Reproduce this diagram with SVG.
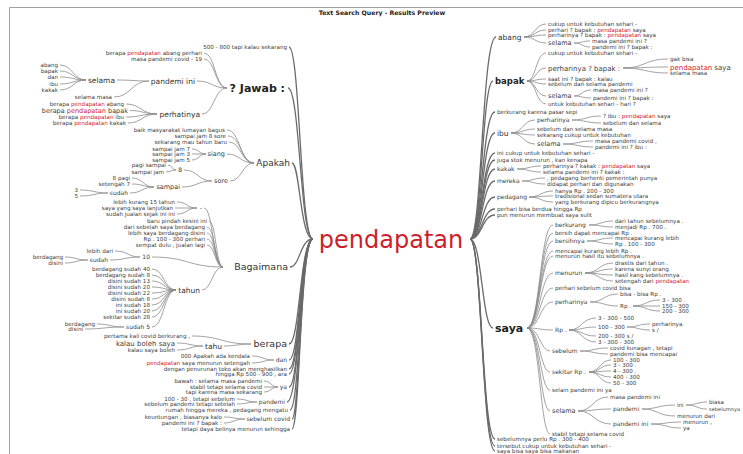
<svg xmlns="http://www.w3.org/2000/svg" width="743" height="454" viewBox="0 0 743 454">
<style>
text{font-family:"DejaVu Sans","Liberation Sans",sans-serif;font-size:5.6px;fill:#3c3c3c}
.L text{text-anchor:end}
.f6{font-size:6px}.f65{font-size:6.5px}.f7{font-size:7px}
.f75{font-size:7.5px;fill:#333}.f85{font-size:8.5px}.f9{font-size:9px;fill:#333}.f95{font-size:9.5px;fill:#333}.f11{font-size:11px}
.bd{font-weight:bold;fill:#222}
.r{fill:#d0202a}
.e{fill:none;stroke:#8a8a8a;stroke-width:0.8}
.k{fill:none;stroke:#6a6a6a;stroke-width:1.3}
.frame{fill:none;stroke:#a0a0a0;stroke-width:1}
</style>
<rect width="743" height="454" fill="#fff"/>
<path class="frame" d="M9.5 454 V7.5 H743"/>
<text x="382" y="15" class="bd" style="font-size:6.2px;text-anchor:middle">Text Search Query - Results Preview</text>

<g id="connectors">
<g class="k">
<path d="M289 47 C300 47 300 239 313 239"/>
<path d="M288 88 C300 88 300 239 313 239"/>
<path d="M292 163 C300 163 300 239 313 239"/>
<path d="M290 267 C300 267 300 239 313 239"/>
<path d="M289 344 C300 344 300 239 313 239"/>
<path d="M289 360 C300 360 300 239 313 239"/>
<path d="M289 369 C300 369 300 239 313 239"/>
<path d="M289 374 C300 374 300 239 313 239"/>
<path d="M289 387 C300 387 300 239 313 239"/>
<path d="M287 402 C300 402 300 239 313 239"/>
<path d="M290 410 C300 410 300 239 313 239"/>
<path d="M292 419 C300 419 300 239 313 239"/>
<path d="M292 429 C300 429 300 239 313 239"/>
<path d="M470 239 C482 239 482 37 496 37"/>
<path d="M470 239 C482 239 482 81 493 81"/>
<path d="M470 239 C482 239 482 112 495 112"/>
<path d="M470 239 C482 239 482 133 495 133"/>
<path d="M470 239 C482 239 482 153 495 153"/>
<path d="M470 239 C482 239 482 160 495 160"/>
<path d="M470 239 C482 239 482 169 495 169"/>
<path d="M470 239 C482 239 482 181 495 181"/>
<path d="M470 239 C482 239 482 197 495 197"/>
<path d="M470 239 C482 239 482 209 495 209"/>
<path d="M470 239 C482 239 482 215 495 215"/>
<path d="M470 239 C482 239 482 328 493 328"/>
<path d="M470 239 C482 239 482 439 495 439"/>
<path d="M470 239 C482 239 482 446 495 446"/>
<path d="M470 239 C482 239 482 451 495 451"/>
</g>
<g class="e">
<path d="M204 53 C215 53 215 88 227 88"/>
<path d="M204 59 C215 59 215 88 227 88"/>
<path d="M197 81 C212 81 212 88 227 88"/>
<path d="M202 114 C214 114 214 88 227 88"/>
<path d="M117 80 C133 80 133 81 149 81"/>
<path d="M114 97 C131 97 131 81 149 81"/>
<path d="M60 65 C73 65 73 80 86 80"/>
<path d="M60 71 C73 71 73 80 86 80"/>
<path d="M60 77 C73 77 73 80 86 80"/>
<path d="M60 84 C73 84 73 80 86 80"/>
<path d="M60 90 C73 90 73 80 86 80"/>
<path d="M126 104 C141 104 141 114 157 114"/>
<path d="M130 110.5 C143 110.5 143 114 157 114"/>
<path d="M126 117 C141 117 141 114 157 114"/>
<path d="M128 123 C142 123 142 114 157 114"/>
<path d="M227 130 C240 130 240 163 254 163"/>
<path d="M228 136 C241 136 241 163 254 163"/>
<path d="M229 142 C241 142 241 163 254 163"/>
<path d="M227 154 C240 154 240 163 254 163"/>
<path d="M230 181 C242 181 242 163 254 163"/>
<path d="M192 149 C199 149 199 154 206 154"/>
<path d="M192 154 L206 154"/>
<path d="M192 160 C199 160 199 154 206 154"/>
<path d="M184 170 C198 170 198 181 212 181"/>
<path d="M182 187 C197 187 197 181 212 181"/>
<path d="M168 165 C172 165 172 170 176 170"/>
<path d="M166 172 C171 172 171 170 176 170"/>
<path d="M132 178 C143 178 143 187 154 187"/>
<path d="M132 184 C143 184 143 187 154 187"/>
<path d="M130 193 C142 193 142 187 154 187"/>
<path d="M80 190 C94 190 94 193 108 193"/>
<path d="M80 196 C94 196 94 193 108 193"/>
<path d="M204 208 C213 208 213 267 223 267"/>
<path d="M209 221 C216 221 216 267 223 267"/>
<path d="M207 227 C215 227 215 267 223 267"/>
<path d="M207 233 C215 233 215 267 223 267"/>
<path d="M207 239 C215 239 215 267 223 267"/>
<path d="M207 245 C215 245 215 267 223 267"/>
<path d="M152 257 C188 257 188 267 223 267"/>
<path d="M202 290 C212 290 212 267 223 267"/>
<path d="M177 202 C187 202 187 208 197 208"/>
<path d="M175 208 L197 208"/>
<path d="M177 214 C187 214 187 208 197 208"/>
<path d="M115 251 C128 251 128 257 140 257"/>
<path d="M110 260 C125 260 125 257 140 257"/>
<path d="M65 257 C76 257 76 260 88 260"/>
<path d="M65 263 C76 263 76 260 88 260"/>
<path d="M152 269 C164 269 164 290 176 290"/>
<path d="M152 275 C164 275 164 290 176 290"/>
<path d="M152 281 C164 281 164 290 176 290"/>
<path d="M152 287 C164 287 164 290 176 290"/>
<path d="M152 293 C164 293 164 290 176 290"/>
<path d="M152 299 C164 299 164 290 176 290"/>
<path d="M152 305 C164 305 164 290 176 290"/>
<path d="M152 311 C164 311 164 290 176 290"/>
<path d="M152 317 C164 317 164 290 176 290"/>
<path d="M152 327 C164 327 164 290 176 290"/>
<path d="M97 324 C110 324 110 327 124 327"/>
<path d="M85 329 C104 329 104 327 124 327"/>
<path d="M192 336 C221 336 221 344 251 344"/>
<path d="M224 346 C237 346 237 344 251 344"/>
<path d="M177 343 C190 343 190 346 203 346"/>
<path d="M177 350 C190 350 190 346 203 346"/>
<path d="M252 356 C263 356 263 360 274 360"/>
<path d="M252 363 C263 363 263 360 274 360"/>
<path d="M264 381 C271 381 271 387 278 387"/>
<path d="M264 387 L278 387"/>
<path d="M264 392 C271 392 271 387 278 387"/>
<path d="M237 399 C247 399 247 402 257 402"/>
<path d="M237 404 C247 404 247 402 257 402"/>
<path d="M224 417 C234 417 234 419 245 419"/>
<path d="M224 423 C234 423 234 419 245 419"/>
<path d="M524 37 C535 37 535 24 546 24"/>
<path d="M524 37 C535 37 535 30 546 30"/>
<path d="M524 37 C535 37 535 35 546 35"/>
<path d="M524 37 C535 37 535 43 546 43"/>
<path d="M574 43 C582 43 582 41 590 41"/>
<path d="M574 43 C582 43 582 47 590 47"/>
<path d="M527 81 C536 81 536 53 546 53"/>
<path d="M527 81 C536 81 536 68 546 68"/>
<path d="M527 81 C536 81 536 79 546 79"/>
<path d="M527 81 C536 81 536 84 546 84"/>
<path d="M527 81 C536 81 536 96 546 96"/>
<path d="M527 81 C536 81 536 104 546 104"/>
<path d="M623 68 C645 68 645 59 668 59"/>
<path d="M623 68 C645 68 645 67 668 67"/>
<path d="M623 68 C645 68 645 73 668 73"/>
<path d="M574 96 C582 96 582 90 591 90"/>
<path d="M574 96 C582 96 582 98 591 98"/>
<path d="M511 133 C523 133 523 120 535 120"/>
<path d="M511 133 C523 133 523 129 535 129"/>
<path d="M511 133 C523 133 523 135 535 135"/>
<path d="M511 133 C523 133 523 144 535 144"/>
<path d="M572 120 C586 120 586 116 601 116"/>
<path d="M572 120 C586 120 586 123 601 123"/>
<path d="M563 144 C578 144 578 141 593 141"/>
<path d="M563 144 C578 144 578 147 593 147"/>
<path d="M517 169 C529 169 529 166 541 166"/>
<path d="M517 169 C529 169 529 172 541 172"/>
<path d="M522 181 C533 181 533 178 545 178"/>
<path d="M522 181 C533 181 533 184 545 184"/>
<path d="M529 197 C541 197 541 191 553 191"/>
<path d="M529 197 C541 197 541 196 553 196"/>
<path d="M529 197 C541 197 541 202 553 202"/>
<path d="M527 328 C540 328 540 225 553 225"/>
<path d="M527 328 C540 328 540 233 553 233"/>
<path d="M527 328 C540 328 540 241 553 241"/>
<path d="M527 328 C540 328 540 251 553 251"/>
<path d="M527 328 C540 328 540 256 553 256"/>
<path d="M527 328 C540 328 540 273 553 273"/>
<path d="M527 328 C540 328 540 288 553 288"/>
<path d="M527 328 C540 328 540 302 553 302"/>
<path d="M527 328 C540 328 540 330 553 330"/>
<path d="M527 328 C540 328 540 351 550 351"/>
<path d="M527 328 C540 328 540 372 550 372"/>
<path d="M527 328 C540 328 540 390 550 390"/>
<path d="M527 328 C540 328 540 411 550 411"/>
<path d="M527 328 C540 328 540 434 550 434"/>
<path d="M589 225 C601 225 601 221 613 221"/>
<path d="M589 225 C601 225 601 227 613 227"/>
<path d="M587 241 C600 241 600 238 613 238"/>
<path d="M587 241 C600 241 600 244 613 244"/>
<path d="M585 273 C599 273 599 263 613 263"/>
<path d="M585 273 C599 273 599 269 613 269"/>
<path d="M585 273 C599 273 599 275 613 275"/>
<path d="M585 273 C599 273 599 281 613 281"/>
<path d="M590 302 C604 302 604 294 618 294"/>
<path d="M590 302 C604 302 604 306 618 306"/>
<path d="M633 306 C646 306 646 300 660 300"/>
<path d="M633 306 L660 306"/>
<path d="M633 306 C646 306 646 311 660 311"/>
<path d="M569 330 C582 330 582 318 596 318"/>
<path d="M569 330 C582 330 582 327 596 327"/>
<path d="M569 330 C582 330 582 336 596 336"/>
<path d="M569 330 C582 330 582 342 596 342"/>
<path d="M627 327 C638 327 638 324 650 324"/>
<path d="M627 327 C638 327 638 330 650 330"/>
<path d="M580 351 C594 351 594 348 608 348"/>
<path d="M580 351 C594 351 594 354 608 354"/>
<path d="M589 372 C600 372 600 360 611 360"/>
<path d="M589 372 C600 372 600 365 611 365"/>
<path d="M589 372 C600 372 600 371 611 371"/>
<path d="M589 372 C600 372 600 377 611 377"/>
<path d="M589 372 C600 372 600 383 611 383"/>
<path d="M578 411 C593 411 593 397 608 397"/>
<path d="M578 411 C594 411 594 409 611 409"/>
<path d="M578 411 C594 411 594 424 611 424"/>
<path d="M642 409 C658 409 658 405 675 405"/>
<path d="M642 409 C658 409 658 416 675 416"/>
<path d="M686 405 C697 405 697 402 707 402"/>
<path d="M686 405 C697 405 697 409 707 409"/>
<path d="M651 424 C666 424 666 422 681 422"/>
<path d="M651 424 C666 424 666 428 681 428"/>
</g>
</g>

<g id="root"><text x="391" y="247.5" style="font-size:24px;fill:#cc1f2b;text-anchor:middle">pendapatan</text></g>

<g class="L">
<g id="l-500"><text x="287" y="49">500 - 800 tapi kalau sekarang</text></g>
<g id="l-jawab"><text class="bd f11" x="285" y="92">? Jawab :</text></g>
<g id="l-j1"><text x="202" y="55">berapa <tspan class="r">pendapatan</tspan> abang perhari</text></g>
<g id="l-j2"><text x="202" y="61">masa pandemi covid - 19</text></g>
<g id="l-pandemi-ini"><text class="f75" x="195" y="83.7">pandemi ini</text></g>
<g id="l-selama1"><text class="f75" x="115" y="82.7">selama</text></g>
<g id="l-s-abang"><text x="58" y="67">abang</text></g>
<g id="l-s-bapak"><text x="58" y="73">bapak</text></g>
<g id="l-s-dan"><text x="58" y="79">dan</text></g>
<g id="l-s-ibu"><text x="58" y="86">ibu</text></g>
<g id="l-s-kakak"><text x="58" y="92">kakak</text></g>
<g id="l-selama-masa"><text x="112" y="99">selama masa</text></g>
<g id="l-perhatinya"><text class="f75" x="200" y="116.7">perhatinya</text></g>
<g id="l-bp-abang"><text x="124" y="106">berapa <tspan class="r">pendapatan</tspan> abang</text></g>
<g id="l-bp-bapak"><text class="f65" x="128" y="112.8">berapa <tspan class="r">pendapatan</tspan> bapak</text></g>
<g id="l-bp-ibu"><text x="124" y="119">berapa <tspan class="r">pendapatan</tspan> ibu</text></g>
<g id="l-bp-kakak"><text x="126" y="125">berapa <tspan class="r">pendapatan</tspan> kakak</text></g>

<g id="l-apakah"><text class="f9" x="290" y="166.2">Apakah</text></g>
<g id="l-a1"><text x="225" y="132">baik masyarakat lumayan bagus</text></g>
<g id="l-a2"><text x="226" y="138">sampai jam 8 sore</text></g>
<g id="l-a3"><text x="227" y="144">sekarang mau tahun baru</text></g>
<g id="l-siang"><text class="f65" x="225" y="156.3">siang</text></g>
<g id="l-sj7"><text x="190" y="151">sampai jam 7</text></g>
<g id="l-sj3"><text x="190" y="156">sampai jam 3</text></g>
<g id="l-sj5"><text x="190" y="162">sampai jam 5</text></g>
<g id="l-sore"><text class="f65" x="228" y="183.3">sore</text></g>
<g id="l-8"><text class="f6" x="182" y="172.1">8</text></g>
<g id="l-pagi-sampai"><text x="166" y="167">pagi sampai</text></g>
<g id="l-sampai-jam"><text x="164" y="174">sampai jam</text></g>
<g id="l-sampai"><text class="f65" x="180" y="189.3">sampai</text></g>
<g id="l-8pagi"><text x="130" y="180">8 pagi</text></g>
<g id="l-setengah7"><text x="130" y="186">setengah 7</text></g>
<g id="l-sudah1"><text class="f6" x="128" y="195.1">sudah</text></g>
<g id="l-3"><text x="78" y="192">3</text></g>
<g id="l-5"><text x="78" y="198">5</text></g>

<g id="l-bagaimana"><text class="f95" x="288" y="270.4">Bagaimana</text></g>
<g id="l-dash"><text class="f6" x="202" y="210.1">-</text></g>
<g id="l-b1"><text x="175" y="204">lebih kurang 15 tahun</text></g>
<g id="l-b2"><text x="173" y="210">saya yang saya lanjutkan</text></g>
<g id="l-b3"><text x="175" y="216">sudah jualan sejak ini ini</text></g>
<g id="l-b4"><text x="207" y="223">baru pindah kesini ini</text></g>
<g id="l-b5"><text x="205" y="229">dari sebelah saya berdagang</text></g>
<g id="l-b6"><text x="205" y="235">lebih saya berdagang disini</text></g>
<g id="l-b7"><text x="205" y="241">Rp . 100 - 300 perhari</text></g>
<g id="l-b8"><text x="205" y="247">sempat dulu , jualan lagi</text></g>
<g id="l-10"><text class="f6" x="150" y="259.1">10</text></g>
<g id="l-lebih-dari"><text x="113" y="253">lebih dari</text></g>
<g id="l-sudah2"><text class="f6" x="108" y="262.1">sudah</text></g>
<g id="l-berdagang1"><text x="63" y="259">berdagang</text></g>
<g id="l-disini1"><text x="63" y="265">disini</text></g>
<g id="l-tahun"><text class="f75" x="200" y="292.7">tahun</text></g>
<g id="l-t1"><text x="150" y="271">berdagang sudah 40</text></g>
<g id="l-t2"><text x="150" y="277">berdagang sudah 8</text></g>
<g id="l-t3"><text x="150" y="283">disini sudah 13</text></g>
<g id="l-t4"><text x="150" y="289">disini sudah 20</text></g>
<g id="l-t5"><text x="150" y="295">disini sudah 22</text></g>
<g id="l-t6"><text x="150" y="301">disini sudah 8</text></g>
<g id="l-t7"><text x="150" y="307">ini sudah 18</text></g>
<g id="l-t8"><text x="150" y="313">ini sudah 20</text></g>
<g id="l-t9"><text x="150" y="319">sekitar sudah 28</text></g>
<g id="l-sudah5"><text class="f6" x="150" y="329.1">sudah 5</text></g>
<g id="l-berdagang2"><text x="95" y="326">berdagang</text></g>
<g id="l-disini2"><text x="83" y="331">disini</text></g>

<g id="l-berapa"><text class="f95" x="287" y="347.4">berapa</text></g>
<g id="l-pertama"><text x="190" y="338">pertama kali covid berkurang ,</text></g>
<g id="l-tahu"><text class="f75" x="222" y="348.7">tahu</text></g>
<g id="l-kbs"><text class="f7" x="175" y="345.5">kalau boleh saya</text></g>
<g id="l-ksb"><text x="175" y="352">kalau saya boleh</text></g>
<g id="l-dan"><text class="f6" x="287" y="362.1">dan</text></g>
<g id="l-d1"><text x="250" y="358">000 Apakah ada kendala</text></g>
<g id="l-d2"><text x="250" y="365"><tspan class="r">pendapatan</tspan> saya menurun setengah</text></g>
<g id="l-dengan"><text x="287" y="371">dengan penurunan toko akan menghasilkan</text></g>
<g id="l-hingga"><text x="287" y="376">hingga Rp 500 - 900 , ara</text></g>
<g id="l-ya"><text class="f6" x="287" y="389.1">ya</text></g>
<g id="l-y1"><text x="262" y="383">bawah : selama masa pandemi</text></g>
<g id="l-y2"><text x="262" y="389">stabil tetapi selama covid</text></g>
<g id="l-y3"><text x="262" y="394">tapi karena masa sekarang</text></g>
<g id="l-pandemi"><text class="f6" x="285" y="404.1">pandemi</text></g>
<g id="l-p1"><text x="235" y="401">100 - 30 , tetapi sebelum</text></g>
<g id="l-p2"><text x="235" y="406">sebelum pandemi tetapi setelah</text></g>
<g id="l-rumah"><text x="288" y="412">rumah hingga mereka , pedagang mengatu</text></g>
<g id="l-sebelum-covid"><text class="f6" x="290" y="421.1">sebelum covid</text></g>
<g id="l-sc1"><text x="222" y="419">keuntungan , biasanya kalo</text></g>
<g id="l-sc2"><text x="222" y="425">pandemi ini ? bapak :</text></g>
<g id="l-tetapi"><text x="290" y="431">tetapi daya belinya menurun sehingga</text></g>
</g>

<g class="R">
<g id="r-abang"><text class="f75" x="498" y="39.7">abang</text></g>
<g id="r-ab1"><text x="548" y="26">cukup untuk kebutuhan sehari -</text></g>
<g id="r-ab2"><text x="548" y="32">perhari ? bapak : <tspan class="r">pendapatan</tspan> saya</text></g>
<g id="r-ab3"><text x="548" y="37">perharinya ? bapak : <tspan class="r">pendapatan</tspan> saya</text></g>
<g id="r-ab-selama"><text class="f65" x="548" y="45.3">selama</text></g>
<g id="r-ab-s1"><text x="592" y="43">masa pandemi ini ?</text></g>
<g id="r-ab-s2"><text x="592" y="49">pandemi ini ? bapak :</text></g>

<g id="r-bapak"><text class="bd f85" x="495" y="84">bapak</text></g>
<g id="r-bp1"><text x="548" y="55">cukup untuk kebutuhan sehari -</text></g>
<g id="r-bp-perh"><text class="f7" x="548" y="70.5">perharinya ? bapak :</text></g>
<g id="r-bp-gak"><text x="670" y="61">gak bisa</text></g>
<g id="r-bp-pend"><text class="f7" x="670" y="69.5"><tspan class="r">pendapatan</tspan> saya</text></g>
<g id="r-bp-sm"><text x="670" y="75">selama masa</text></g>
<g id="r-bp3"><text x="548" y="81">saat ini ? bapak : kalau</text></g>
<g id="r-bp4"><text x="548" y="86">sebelum dan selama pandemi</text></g>
<g id="r-bp-selama"><text class="f65" x="548" y="98.3">selama</text></g>
<g id="r-bp-s1"><text x="593" y="92">masa pandemi ini ?</text></g>
<g id="r-bp-s2"><text x="593" y="100">pandemi ini ? bapak :</text></g>
<g id="r-bp5"><text x="548" y="106">untuk kebutuhan sehari - hari ?</text></g>

<g id="r-berkurang-pasar"><text x="497" y="114">berkurang karena pasar sepi</text></g>
<g id="r-ibu"><text class="f75" x="497" y="135.7">ibu</text></g>
<g id="r-ibu-perh"><text class="f6" x="537" y="122.1">perharinya</text></g>
<g id="r-ibu-p1"><text x="603" y="118">? ibu : <tspan class="r">pendapatan</tspan> saya</text></g>
<g id="r-ibu-p2"><text x="603" y="125">sebelum dan selama</text></g>
<g id="r-ibu2"><text x="537" y="131">sebelum dan selama masa</text></g>
<g id="r-ibu3"><text x="537" y="137">sekarang cukup untuk kebutuhan</text></g>
<g id="r-ibu-selama"><text class="f65" x="537" y="146.3">selama</text></g>
<g id="r-ibu-s1"><text x="595" y="143">masa pandemi covid ,</text></g>
<g id="r-ibu-s2"><text x="595" y="149">pandemi ini ? ibu :</text></g>
<g id="r-ini-cukup"><text x="497" y="155">ini cukup untuk kebutuhan sehari -</text></g>
<g id="r-juga"><text x="497" y="162">juga stok menurun , kan kenapa</text></g>
<g id="r-kakak"><text class="f6" x="497" y="171.1">kakak</text></g>
<g id="r-kk1"><text x="543" y="168">perharinya ? kakak : <tspan class="r">pendapatan</tspan> saya</text></g>
<g id="r-kk2"><text x="543" y="174">selama pandemi ini ? kakak :</text></g>
<g id="r-mereka"><text class="f6" x="497" y="183.1">mereka</text></g>
<g id="r-mr1"><text x="547" y="180">, pedagang berhenti pemerintah punya</text></g>
<g id="r-mr2"><text x="547" y="186">didapat perhari dan digunakan</text></g>
<g id="r-pedagang"><text class="f6" x="497" y="199.1">pedagang</text></g>
<g id="r-pd1"><text x="555" y="193">hanya Rp . 200 - 300</text></g>
<g id="r-pd2"><text x="555" y="198">tradisional sedan sumatera utara</text></g>
<g id="r-pd3"><text x="555" y="204">yang berkurang dipicu berkurangnya</text></g>
<g id="r-perhari-bisa"><text x="497" y="211">perhari bisa berdua hingga Rp</text></g>
<g id="r-pun"><text x="497" y="217">pun menurun membuat saya sulit</text></g>

<g id="r-saya"><text class="bd f11" x="495" y="332">saya</text></g>
<g id="r-sy-berkurang"><text class="f6" x="555" y="227.1">berkurang</text></g>
<g id="r-sy-bk1"><text x="615" y="223">dari tahun sebelumnya .</text></g>
<g id="r-sy-bk2"><text x="615" y="229">menjadi Rp . 700 .</text></g>
<g id="r-sy2"><text x="555" y="235">bersih dapat mencapai Rp .</text></g>
<g id="r-sy-bersihnya"><text class="f6" x="555" y="243.1">bersihnya</text></g>
<g id="r-sy-bs1"><text x="615" y="240">mencapai kurang lebih</text></g>
<g id="r-sy-bs2"><text x="615" y="246">Rp . 100 - 300</text></g>
<g id="r-sy4"><text x="555" y="253">mencapai kurang lebih Rp .</text></g>
<g id="r-sy5"><text x="555" y="258">menurun hasil itu sebelumnya .</text></g>
<g id="r-sy-menurun"><text class="f6" x="555" y="275.1">menurun</text></g>
<g id="r-sy-mn1"><text x="615" y="265">drastis dari tahun .</text></g>
<g id="r-sy-mn2"><text x="615" y="271">karena sunyi orang</text></g>
<g id="r-sy-mn3"><text x="615" y="277">hasil kang sebelumnya .</text></g>
<g id="r-sy-mn4"><text x="615" y="283">setengah dari <tspan class="r">pendapatan</tspan></text></g>
<g id="r-sy7"><text x="555" y="290">perhari sebelum covid bisa</text></g>
<g id="r-sy-perh"><text class="f6" x="555" y="304.1">perharinya</text></g>
<g id="r-sy-ph1"><text x="620" y="296">bisa - bisa Rp .</text></g>
<g id="r-sy-ph-rp"><text x="620" y="308">Rp .</text></g>
<g id="r-sy-rp-a"><text x="662" y="302">3 - 300 .</text></g>
<g id="r-sy-rp-b"><text x="662" y="308">150 - 300</text></g>
<g id="r-sy-rp-c"><text x="662" y="313">200 - 300</text></g>
<g id="r-sy-rp"><text class="f6" x="555" y="332.1">Rp .</text></g>
<g id="r-sy-rp1"><text x="598" y="320">3 - 300 - 500</text></g>
<g id="r-sy-rp2"><text x="598" y="329">100 - 300</text></g>
<g id="r-sy-rp2a"><text x="652" y="326">perharinya</text></g>
<g id="r-sy-rp2b"><text x="652" y="332">s /</text></g>
<g id="r-sy-rp3"><text x="598" y="338">200 - 300 s /</text></g>
<g id="r-sy-rp4"><text x="598" y="344">3 - 300 - 300</text></g>
<g id="r-sy-sebelum"><text class="f6" x="552" y="353.1">sebelum</text></g>
<g id="r-sy-sb1"><text x="610" y="350">covid kunagan , tetapi</text></g>
<g id="r-sy-sb2"><text x="610" y="356">pandemi bisa mencapai</text></g>
<g id="r-sy-sekitar"><text class="f6" x="552" y="374.1">sekitar Rp .</text></g>
<g id="r-sy-sk1"><text x="613" y="362">100 - 300</text></g>
<g id="r-sy-sk2"><text x="613" y="367">3 - 300 .</text></g>
<g id="r-sy-sk3"><text x="613" y="373">4 - 300 .</text></g>
<g id="r-sy-sk4"><text x="613" y="379">400 - 300</text></g>
<g id="r-sy-sk5"><text x="613" y="385">50 - 300</text></g>
<g id="r-sy-selain"><text x="552" y="392">selain pandemi ini ya</text></g>
<g id="r-sy-selama"><text class="f65" x="552" y="413.3">selama</text></g>
<g id="r-sy-sl1"><text x="610" y="399">masa pandemi ini</text></g>
<g id="r-sy-sl-pandemi"><text class="f6" x="613" y="411.1">pandemi</text></g>
<g id="r-sy-ini"><text x="677" y="407">ini</text></g>
<g id="r-sy-biasa"><text x="709" y="404">biasa</text></g>
<g id="r-sy-sebelumnya"><text x="709" y="411" style="font-size:5.1px">sebelumnya</text></g>
<g id="r-sy-menurun-dari"><text x="677" y="418">menurun dari</text></g>
<g id="r-sy-pandemi-ini"><text class="f6" x="613" y="426.1">pandemi ini</text></g>
<g id="r-sy-pi1"><text x="683" y="424">menurun ,</text></g>
<g id="r-sy-pi2"><text x="683" y="430">ya</text></g>
<g id="r-sy-stabil"><text x="552" y="436">stabil tetapi selama covid</text></g>
<g id="r-sebelumnya"><text x="497" y="441">sebelumnya perlu Rp . 300 - 400</text></g>
<g id="r-tersebut"><text x="497" y="448">tersebut cukup untuk kebutuhan sehari -</text></g>
<g id="r-saya-bisa"><text x="497" y="453">saya bisa saya bisa makanan</text></g>
</g>
</svg>
